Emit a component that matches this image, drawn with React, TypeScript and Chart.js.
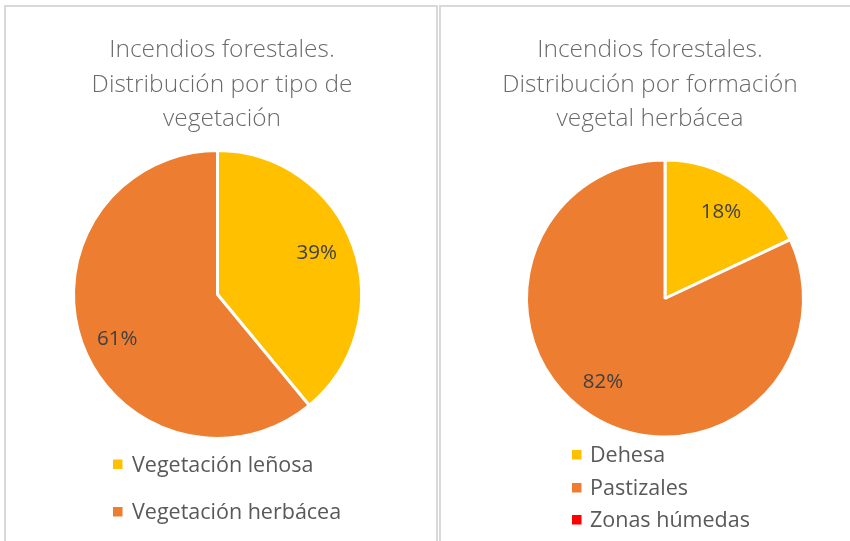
import React, { useEffect, useRef } from "react";
import { Chart, registerables } from "chart.js";

Chart.register(...registerables);

// ---- Data ----
const vegetationLabels = ["Vegetación leñosa", "Vegetación herbácea"];
const vegetationValues = [39, 61];
const vegetationTitle = ["Incendios forestales.", "Distribución por tipo de", "vegetación"];

const herbaceousLabels = ["Dehesa", "Pastizales", "Zonas húmedas"];
const herbaceousValues = [18, 82, 0];
const herbaceousTitle = ["Incendios forestales.", "Distribución por formación", "vegetal herbácea"];

const sliceColors = ["#FFC000", "#ED7D31", "#FF0000"];

const FONT = '"Open Sans", "Noto Sans", sans-serif';
const LIGHT_FONT = '"Open Sans Light", "Open Sans", "Noto Sans", sans-serif';

const overlayPlugin = {
  id: "overlay",
  afterDraw(chart: any, _args: any, opts: any) {
    const ctx = chart.ctx as CanvasRenderingContext2D;
    ctx.save();
    // Title
    ctx.fillStyle = "#6a6a6a";
    ctx.font = `300 ${opts.titleSize}px ${LIGHT_FONT}`;
    ctx.textAlign = "center";
    ctx.textBaseline = "alphabetic";
    (opts.title as string[]).forEach((line, i) => {
      ctx.fillText(line, opts.titleX, opts.titleBaselines[i]);
    });

    // Data labels
    const meta = chart.getDatasetMeta(0);
    const data = chart.data.datasets[0].data as number[];
    const total = data.reduce((a, b) => a + b, 0);
    ctx.fillStyle = "#404040";
    ctx.font = `400 ${opts.labelSize}px ${FONT}`;
    ctx.textAlign = "center";
    meta.data.forEach((arc: any, i: number) => {
      const v = data[i];
      if (!v) return;
      const p = arc.getProps(["x", "y", "startAngle", "endAngle", "outerRadius"], true);
      const mid = (p.startAngle + p.endAngle) / 2;
      const r = p.outerRadius * opts.labelRadius;
      const off = (opts.labelOffsets && opts.labelOffsets[i]) || [0, 0];
      const tx = p.x + Math.cos(mid) * r + off[0];
      const ty = p.y + Math.sin(mid) * r + opts.labelSize * 0.36 + off[1];
      ctx.fillText(Math.round((v / total) * 100) + "%", tx, ty);
    });

    // Legend
    const colors = chart.data.datasets[0].backgroundColor as string[];
    ctx.font = `400 ${opts.legendSize}px ${FONT}`;
    ctx.textAlign = "left";
    (chart.data.labels as string[]).forEach((label, i) => {
      const by = opts.legendBaselines[i];
      ctx.fillStyle = colors[i];
      ctx.fillRect(opts.legendBoxX, by - 12, 9.5, 9.5);
      ctx.fillStyle = "#595959";
      ctx.fillText(label, opts.legendTextX, by);
    });
    ctx.restore();
  },
};

function PieCanvas(props: {
  labels: string[];
  values: number[];
  padding: { left: number; right: number; top: number; bottom: number };
  overlay: any;
}) {
  const ref = useRef<HTMLCanvasElement | null>(null);
  useEffect(() => {
    if (!ref.current) return;
    const chart = new Chart(ref.current, {
      type: "pie",
      data: {
        labels: props.labels,
        datasets: [
          {
            data: props.values,
            backgroundColor: sliceColors.slice(0, props.values.length),
            borderColor: "#ffffff",
            borderWidth: 3,
            hoverOffset: 0,
          },
        ],
      },
      options: {
        responsive: false,
        animation: false,
        events: [],
        layout: { padding: props.padding },
        plugins: {
          legend: { display: false },
          title: { display: false },
          tooltip: { enabled: false },
          overlay: props.overlay,
        } as any,
      },
      plugins: [overlayPlugin],
    });
    return () => chart.destroy();
  }, []);
  return (
    <canvas
      ref={ref}
      width={850}
      height={541}
      style={{ position: "absolute", left: 0, top: 0, width: 850, height: 541 }}
    />
  );
}

export default function App() {
  return (
    <div
      style={{
        position: "absolute",
        left: 0,
        top: 0,
        width: 850,
        height: 541,
        overflow: "hidden",
        background: "#ffffff",
      }}
    >
      <div
        style={{
          position: "absolute",
          left: 4,
          top: 5,
          width: 434,
          height: 600,
          border: "2px solid #d9d9d9",
          boxSizing: "border-box",
        }}
      />
      <div
        style={{
          position: "absolute",
          left: 439,
          top: 5,
          width: 440,
          height: 600,
          border: "2px solid #d9d9d9",
          boxSizing: "border-box",
        }}
      />
      <PieCanvas
        labels={vegetationLabels}
        values={vegetationValues}
        padding={{ left: 72, right: 487, top: 149, bottom: 101 }}
        overlay={{
          title: vegetationTitle,
          titleX: 222,
          titleBaselines: [57, 92, 126],
          titleSize: 24.5,
          labelSize: 20.5,
          labelRadius: 0.755,
          labelOffsets: [[-3, -6], [2, 6]],
          legendBoxX: 113,
          legendTextX: 132,
          legendBaselines: [471.5, 519],
          legendSize: 21.5,
        }}
      />
      <PieCanvas
        labels={herbaceousLabels}
        values={herbaceousValues}
        padding={{ left: 525, right: 45, top: 158.5, bottom: 102.5 }}
        overlay={{
          title: herbaceousTitle,
          titleX: 650,
          titleBaselines: [57, 92, 126],
          titleSize: 24.5,
          labelSize: 20.5,
          labelRadius: 0.755,
          labelOffsets: [[0, 0], [-6, -6]],
          legendBoxX: 572,
          legendTextX: 590,
          legendBaselines: [462, 495, 527],
          legendSize: 21.5,
        }}
      />
    </div>
  );
}
